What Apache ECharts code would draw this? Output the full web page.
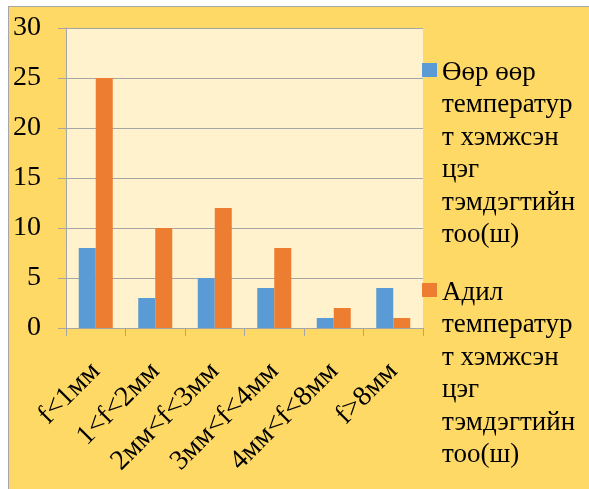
<!DOCTYPE html>
<html>
<head>
<meta charset="utf-8">
<script src="https://cdn.jsdelivr.net/npm/echarts@6/dist/echarts.min.js"></script>
<style>
  html, body { margin: 0; padding: 0; background: #ffffff; }
  #frame {
    position: absolute; left: 8px; top: 6px; width: 600px; height: 500px;
    background: #FFD966; border-left: 1px solid #A6A6A6; border-top: 1px solid #A6A6A6;
  }
  #chart { position: absolute; left: 0; top: 0; width: 589px; height: 489px; }
</style>
</head>
<body>
<div id="frame"></div>
<div id="chart"></div>
<script>
// Crack-width classes
const categories = ['f<1мм', '1<f<2мм', '2мм<f<3мм', '3мм<f<4мм', '4мм<f<8мм', 'f>8мм'];

// Counts of measuring points per class
const seriesNames = [
  'Өөр өөр температурт хэмжсэн цэг тэмдэгтийн тоо(ш)',
  'Адил температурт хэмжсэн цэг тэмдэгтийн тоо(ш)'
];
const differentTemp = [8, 3, 5, 4, 1, 4];
const sameTemp = [25, 10, 12, 8, 2, 1];

// Legend text as it wraps in the side column
const legendLines = [
  ['Өөр өөр', 'температур', 'т хэмжсэн', 'цэг', 'тэмдэгтийн', 'тоо(ш)'],
  ['Адил', 'температур', 'т хэмжсэн', 'цэг', 'тэмдэгтийн', 'тоо(ш)']
];

// Y axis ticks
const yMin = 0, yMax = 30, yStep = 5;

const lineH = 32.4;
const iconW = 15, iconH = 14;

// Legend item is as tall as its wrapped text; the square marker sits at the
// top beside the first line (two invisible specks fix the path's extent).
const itemH = 6 * lineH;
const iconTop = lineH / 2 - 3 - iconH / 2;
const legendIcon = 'path://M0,0h0.01v0.01h-0.01Z' +
  'M0,' + iconTop + 'h' + iconW + 'v' + iconH + 'h-' + iconW + 'Z' +
  'M0,' + (itemH - 0.01) + 'h0.01v0.01h-0.01Z';

const chart = echarts.init(document.getElementById('chart'));
chart.setOption({
  animation: false,
  backgroundColor: 'transparent',
  legend: {
    orient: 'vertical',
    left: 422,
    top: 73 - lineH / 2,
    padding: 0,
    itemWidth: iconW,
    itemHeight: itemH,
    itemGap: 220 - itemH,
    icon: legendIcon,
    symbolKeepAspect: false,
    selectedMode: false,
    formatter: (name) => legendLines[seriesNames.indexOf(name)].join('\n'),
    textStyle: {
      fontFamily: 'Liberation Serif',
      fontSize: 27,
      color: '#000',
      lineHeight: lineH
    }
  },
  grid: {
    left: 66,
    top: 28,
    right: 166,
    bottom: 161,
    show: true,
    backgroundColor: '#FFF2CC',
    borderWidth: 0
  },
  xAxis: {
    type: 'category',
    data: categories,
    axisLine: { show: true, lineStyle: { color: '#A6A6A6', width: 1 } },
    axisTick: { show: true, length: 8, lineStyle: { color: '#A6A6A6' } },
    axisLabel: {
      interval: 0,
      rotate: 45,
      margin: 39,
      fontFamily: 'Liberation Serif',
      fontSize: 28,
      color: '#000'
    },
    splitLine: { show: false }
  },
  yAxis: {
    type: 'value',
    min: yMin,
    max: yMax,
    interval: yStep,
    axisLine: { show: true, lineStyle: { color: '#A6A6A6', width: 1 } },
    axisTick: { show: true, length: 8, lineStyle: { color: '#A6A6A6' } },
    axisLabel: {
      margin: 25,
      fontFamily: 'Liberation Serif',
      fontSize: 28,
      color: '#000'
    },
    splitLine: { show: true, lineStyle: { color: '#A6A6A6', width: 1 } }
  },
  series: [
    {
      name: seriesNames[0],
      type: 'bar',
      data: differentTemp,
      barWidth: 17,
      barGap: '0%',
      itemStyle: { color: '#5B9BD5' }
    },
    {
      name: seriesNames[1],
      type: 'bar',
      data: sameTemp,
      barWidth: 17,
      barGap: '0%',
      itemStyle: { color: '#ED7D31' }
    }
  ]
});
</script>
</body>
</html>
